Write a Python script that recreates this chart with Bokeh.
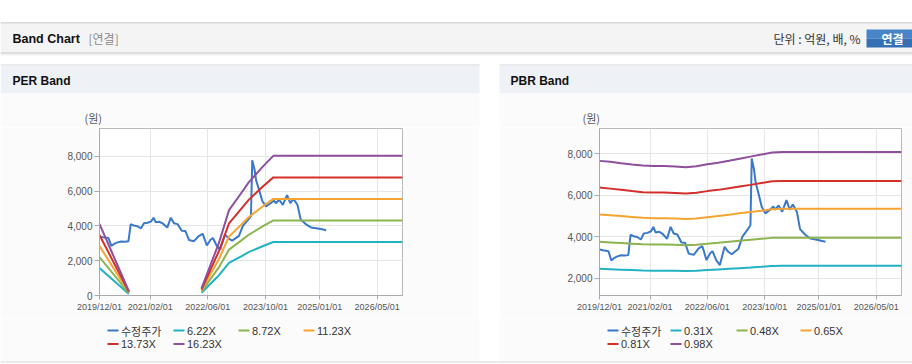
import numpy as np
import pandas as pd
from datetime import datetime
from bokeh.plotting import figure
from bokeh.layouts import column, row
from bokeh.models import Range1d, FixedTicker, DatetimeTickFormatter, NumeralTickFormatter, Spacer
from bokeh.core.properties import value
from bokeh.embed import file_html
from bokeh.resources import INLINE

# ---------------- data ----------------
price_label = "수정주가"
price_dates = [
    "2019-12-01", "2020-01-01", "2020-02-15", "2020-03-10", "2020-04-01", "2020-05-01",
    "2020-06-01", "2020-07-01", "2020-08-01", "2020-08-20", "2020-09-15", "2020-10-15",
    "2020-11-15", "2020-12-10", "2021-01-10", "2021-02-10", "2021-03-01", "2021-03-20",
    "2021-04-20", "2021-05-15", "2021-06-25", "2021-07-25", "2021-08-20", "2021-09-20",
    "2021-10-25", "2021-11-25", "2021-12-25", "2022-02-05", "2022-03-20", "2022-04-20",
    "2022-05-25", "2022-06-25", "2022-07-15", "2022-08-15", "2022-09-15", "2022-10-25",
    "2022-11-25", "2022-12-25", "2023-02-20", "2023-03-25", "2023-05-15", "2023-06-01",
    "2023-06-12", "2023-07-01", "2023-07-15", "2023-08-05", "2023-09-05", "2023-10-05",
    "2023-11-15", "2023-12-12", "2023-12-28", "2024-01-25", "2024-02-25", "2024-04-01",
    "2024-04-28", "2024-05-25", "2024-06-28", "2024-07-25", "2024-09-05", "2024-10-20",
    "2024-12-15", "2025-01-20", "2025-02-25",
]
price_values = [
    3380, 3340, 3300, 2850, 2960, 3050,
    3100, 3090, 3110, 4090, 4020, 3980,
    3860, 4150, 4180, 4260, 4470, 4200,
    4230, 4150, 3900, 4470, 4150, 4100,
    3720, 3700, 3190, 3120, 3430, 3540,
    2870, 3200, 3300, 2870, 2630, 3510,
    3270, 3150, 3420, 4000, 4400, 4550,
    7760, 7250, 6600, 6150, 5430, 5120,
    5300, 5450, 5300, 5500, 5200, 5760,
    5300, 5550, 5200, 4360, 4100, 3910,
    3850, 3800, 3750,
]

per_band_dates = [
    "2019-12-01", "2020-08-05", "2021-06-01",
    "2022-04-10", "2022-09-03", "2022-11-28", "2023-03-07", "2023-05-13",
    "2023-09-07", "2023-12-07", "2026-12-01",
]
nan = float("nan")
per_band_labels = ["6.22X", "8.72X", "11.23X", "13.73X", "16.23X"]
per_band_6_22 = [1573, 93, nan, 156, 1151, 1878, 2239, 2488, 2830, 3073, 3073]
per_band_8_72 = [2206, 131, nan, 218, 1613, 2633, 3139, 3488, 3968, 4308, 4308]
per_band_11_23 = [2841, 168, nan, 281, 2078, 3391, 4043, 4492, 5110, 5548, 5548]
per_band_13_73 = [3474, 206, nan, 343, 2540, 4146, 4943, 5492, 6247, 6783, 6783]
per_band_16_23 = [4106, 243, nan, 406, 3003, 4901, 5843, 6492, 7385, 8018, 8018]

pbr_band_dates = [
    "2019-12-01", "2020-03-01", "2020-06-01", "2020-09-01", "2020-12-01", "2021-03-01",
    "2021-06-01", "2021-09-01", "2021-12-01", "2022-03-01", "2022-06-01", "2022-09-01",
    "2022-12-01", "2023-03-01", "2023-06-01", "2023-09-01", "2023-12-01", "2024-03-01",
    "2026-12-01",
]
pbr_band_labels = ["0.31X", "0.48X", "0.65X", "0.81X", "0.98X"]
pbr_band_0_31 = [2450, 2430, 2410, 2390, 2370, 2360, 2360, 2355, 2350, 2360, 2390, 2420, 2450, 2480, 2510, 2550, 2590, 2600, 2600]
pbr_band_0_48 = [3750, 3720, 3690, 3660, 3630, 3620, 3620, 3610, 3590, 3610, 3660, 3700, 3750, 3800, 3850, 3900, 3940, 3950, 3950]
pbr_band_0_65 = [5060, 5030, 4990, 4950, 4910, 4890, 4890, 4870, 4845, 4870, 4930, 4990, 5050, 5120, 5180, 5250, 5320, 5340, 5340]
pbr_band_0_81 = [6360, 6310, 6250, 6190, 6140, 6120, 6120, 6100, 6075, 6110, 6190, 6250, 6330, 6410, 6490, 6580, 6660, 6675, 6675]
pbr_band_0_98 = [7645, 7600, 7530, 7470, 7420, 7400, 7400, 7380, 7340, 7390, 7480, 7560, 7650, 7750, 7850, 7950, 8050, 8075, 8075]

x_tick_dates = ["2019-12-01", "2021-02-01", "2022-06-01", "2023-10-01", "2025-01-01", "2026-05-01"]
x_start, x_end = "2019-12-01", "2026-12-01"
per_y_ticks = [0, 2000, 4000, 6000, 8000]
pbr_y_ticks = [2000, 4000, 6000, 8000]

# ---------------- style ----------------
PRICE_COLOR = "#3a78c9"
BAND_COLORS = ["#22b2c4", "#8cb450", "#f5a431", "#d42f2b", "#8e4f9d"]
LAT = "Liberation Sans"
KR = "Noto Sans CJK KR"
PANEL_BG = "#fbfbfb"
HEAD_BG = "#eef1f6"


def d(s):
    return datetime.strptime(s, "%Y-%m-%d")


def ms(s):
    return (d(s) - datetime(1970, 1, 1)).total_seconds() * 1000.0


def canvas(w, h, y_top, y_bottom, bg="white"):
    p = figure(width=w, height=h, x_range=Range1d(0, w), y_range=Range1d(y_bottom, y_top),
               output_backend="svg", toolbar_location=None, min_border=0,
               x_axis_location=None, y_axis_location=None,
               background_fill_color=bg, border_fill_color=bg, outline_line_color=None)
    p.grid.visible = False
    p.title.visible = False
    return p


def box(p, l, r, t, b, color, line=None):
    p.quad(left=[l], right=[r], top=[t], bottom=[b], fill_color=color,
           line_color=line, line_width=1 if line else 0)


def txt(p, x, y, s, size, color, font, bold=False, align="left"):
    p.text(x=[x], y=[y], text=[s], text_font=value(font), text_font_size=size,
           text_font_style="bold" if bold else "normal", text_color=color,
           text_baseline="middle", text_align=align)


# ---------------- header canvas ----------------
top = canvas(912, 127, 0, 127)
box(top, 0, 912, 22, 23, "#b4b4b4")
box(top, 0, 912, 23, 52, "#f4f4f4")
box(top, 0, 912, 52, 53, "#c4c4c4")
box(top, 0, 912, 53, 54, "#e0e0e0")
box(top, 0, 912, 54, 55, "#f1f1f1")
for (l, r) in [(0, 479), (499, 912)]:
    box(top, l, r, 64, 65, "#d4d4d4")
    box(top, l, r, 65, 93, HEAD_BG)
    box(top, l, r, 93, 127, PANEL_BG)
txt(top, 12, 38, "Band Chart", "12.5px", "#111111", LAT, bold=True)
txt(top, 88, 38, "[연결]", "12px", "#8a8a8a", KR)
txt(top, 860, 38, "단위 : 억원, 배, %", "12px", "#333333", KR, align="right")
box(top, 866, 918, 29, 38, "#4784c8")
box(top, 866, 918, 38, 47, "#3370b4")
txt(top, 892, 38, "연결", "12px", "white", KR, bold=True, align="center")
txt(top, 12, 80, "PER Band", "12px", "#111111", LAT, bold=True)
txt(top, 510, 80, "PBR Band", "12px", "#111111", LAT, bold=True)
txt(top, 84, 117, "(원)", "11px", "#555555", KR)
txt(top, 582, 117, "(원)", "11px", "#555555", KR)


# ---------------- charts ----------------
def chart(w, left, right, yr, yticks, band_dates, bands):
    p = figure(width=w, height=191, x_axis_type="datetime",
               x_range=Range1d(d(x_start), d(x_end)), y_range=Range1d(*yr),
               output_backend="svg", toolbar_location=None,
               min_border_left=left, min_border_right=right, min_border_top=1, min_border_bottom=23,
               background_fill_color="white", border_fill_color=PANEL_BG,
               outline_line_color="#b8b8b8")
    p.title.visible = False
    p.yaxis.ticker = FixedTicker(ticks=yticks)
    p.yaxis.formatter = NumeralTickFormatter(format="0,0")
    p.xaxis.ticker = FixedTicker(ticks=[ms(t) for t in x_tick_dates])
    fmt = "%Y/%m/%d"
    p.xaxis.formatter = DatetimeTickFormatter(
        microseconds=fmt, milliseconds=fmt, seconds=fmt, minsec=fmt, minutes=fmt,
        hourmin=fmt, hours=fmt, days=fmt, months=fmt, years=fmt)
    for ax in (p.xaxis, p.yaxis):
        ax.axis_line_color = "#aaaaaa"
        ax.major_tick_line_color = "#aaaaaa"
        ax.major_tick_in = 0
        ax.major_tick_out = 5
        ax.minor_tick_in = 0
        ax.minor_tick_out = 0
        ax.major_label_text_color = "#555555"
        ax.major_label_text_font = LAT
        ax.major_label_standoff = 2
    p.yaxis.major_label_text_font_size = "10px"
    p.xaxis.major_label_text_font_size = "9px"
    p.xaxis.major_tick_out = 4
    p.grid.grid_line_color = "#e6e6e6"
    p.line(x=pd.to_datetime(price_dates), y=np.array(price_values, dtype=float),
           line_color=PRICE_COLOR, line_width=2)
    bd = pd.to_datetime(band_dates)
    for vals, c in zip(bands, BAND_COLORS):
        p.line(x=bd, y=np.array(vals, dtype=float), line_color=c, line_width=2)
    return p


per = chart(479, 99, 77, (0, 9590), per_y_ticks, per_band_dates,
            [per_band_6_22, per_band_8_72, per_band_11_23, per_band_13_73, per_band_16_23])
pbr = chart(413, 100, 11, (1167, 9203), pbr_y_ticks, pbr_band_dates,
            [pbr_band_0_31, pbr_band_0_48, pbr_band_0_65, pbr_band_0_81, pbr_band_0_98])

# ---------------- legends canvas ----------------
bottom = canvas(912, 46, 318, 364)
box(bottom, 0, 479, 318, 361, PANEL_BG)
box(bottom, 499, 912, 318, 361, PANEL_BG)
box(bottom, 0, 912, 361, 362, "#d6d6d6")


def legend(p, xs, labels):
    cols = [PRICE_COLOR] + BAND_COLORS
    ys = [330, 330, 330, 330, 343.5, 343.5]
    p.segment(x0=xs, x1=[x + 11 for x in xs], y0=ys, y1=ys, line_color=cols, line_width=2)
    fonts = [KR if any(ord(ch) > 0x3000 for ch in s) else LAT for s in labels]
    p.text(x=[x + 13.5 for x in xs], y=ys, text=labels, text_font=fonts,
           text_font_size="11px", text_color="#333333", text_baseline="middle", text_align="left")


legend(bottom, [107, 173, 238, 303, 107, 173], [price_label] + per_band_labels)
legend(bottom, [607, 670, 736, 800, 607, 670], [price_label] + pbr_band_labels)

layout = column(top, row(per, Spacer(width=20, height=191), pbr), bottom)

open("out.html", "w").write(file_html(layout, INLINE))
